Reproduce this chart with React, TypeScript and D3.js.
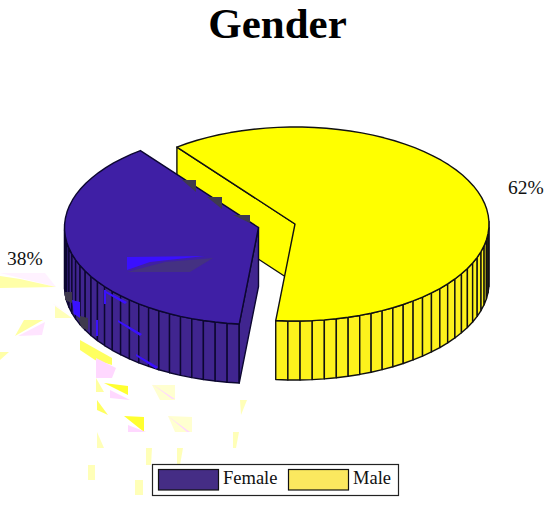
import React from 'react';
import * as d3 from 'd3';

// values
const categories = ['Female', 'Male'];
const shares = [38, 62];
const percentLabels = ['38%', '62%'];
const chartTitle = 'Gender';

const topColors = ['#3f1fa5', '#ffff00'];
const wallColors = ['#40258f', '#fdf21c'];
const legendColors = ['#452d85', '#fbe85f'];

// The source image has rendering/compression debris around the pie. It is not
// data, just traced by hand so the picture looks the same: [colour, polygon].
const debrisBehind: [string, string][] = [
  ['#fff2ff', '0,273 45,273 56,287'],
  ['#ffffa8', '0,276 20,279 56,287 0,288'],
  ['#ffe4ff', '18,336 45,322 42,335'],
  ['#ffffa0', '15,336 43,320 24,320'],
  ['#ffe6ff', '52,303 72,316 56,306'],
  ['#ffffb8', '55,306 72,318 55,318'],
  ['#ffff60', '80,340 112,358 112,365 95,360 80,350'],
  ['#ffd8ff', '96,358 116,368 112,378 96,378'],
  ['#ffffa8', '0,352 9,352 0,360'],
  ['#ffffa0', '96,378 104,392 96,392'],
  ['#ffff30', '104,383 128,386 128,395'],
  ['#ffd8ff', '110,390 130,400 110,398'],
  ['#ffffd0', '152,385 175,385 175,400 160,400'],
  ['#ffd8ff', '152,384 175,399 172,399'],
  ['#ffff60', '97,400 108,415 97,410'],
  ['#ffff30', '124,416 144,417 144,432'],
  ['#ffd8ff', '128,425 146,432 128,432'],
  ['#ffffd0', '168,416 192,417 192,432 175,432'],
  ['#ffd8ff', '168,416 190,432 187,432'],
  ['#ffffb8', '97,432 104,448 97,448'],
  ['#ffffb8', '146,448 152,448 151,465 146,465'],
  ['#ffffb8', '177,448 183,448 180,465 177,465'],
  ['#ffffb8', '88,465 95,465 95,480 88,480'],
  ['#ffffb8', '135,480 143,480 143,495 135,495'],
  ['#ffffb8', '240,400 247,400 241,415'],
  ['#ffffb8', '233,432 239,432 236,448 233,448'],
];
const debrisOnPie: [string, string][] = [
  ['#3f3a4d', '182,180 196,180 196,192'],
  ['#3f3a4d', '207,197 222,197 222,209'],
  ['#3f3a4d', '233,215 250,215 250,223'],
  ['#3a10ff', '127,257 205,256 150,262 127,270'],
  ['#443182', '127,272 165,262 213,258 190,272'],
  ['#3f3a4d', '65,292 72,292 72,303 65,300'],
  ['#3f3a4d', '76,315 88,318 88,330 82,328'],
  ['#3a10ff', '104,290 106,290 106,304 104,304'],
  ['#3a10ff', '104,290 127,302 125,304 104,292'],
  ['#3a10ff', '96,320 98,320 98,336 96,336'],
  ['#3a10ff', '118,320 142,334 140,336 118,322'],
  ['#3a10ff', '136,354 158,367 156,369 136,356'],
  ['#3a10ff', '72,300 80,302 80,318 74,314'],
];

const width = 550;
const height = 506;
const serif = '"Liberation Serif", serif';

// the ellipse of the pie top, male slice is the one that stays at the centre
const center = { x: 295, y: 224 };
const radius = { x: 194, y: 97 };
const depth = 59;
const explode = [{ x: -36.5, y: 3.5 }, { x: 0, y: 0 }];

// d3 angles run clockwise from 12 o'clock, this pie runs the other way
const startDeg = -37.5;
const slices = d3.pie<number>().sort(null)
  .startAngle((startDeg * Math.PI) / 180)
  .endAngle(((startDeg - 360) * Math.PI) / 180)(shares);

const xScale = d3.scaleLinear().domain([-1, 1]).range([center.x - radius.x, center.x + radius.x]);
const yScale = d3.scaleLinear().domain([-1, 1]).range([center.y + radius.y, center.y - radius.y]);

type Pt = [number, number];

const rim = (angle: number, i: number, drop = 0): Pt => [
  xScale(Math.sin(angle)) + explode[i].x,
  yScale(Math.cos(angle)) + explode[i].y + drop,
];
const apex = (i: number, drop = 0): Pt => [center.x + explode[i].x, center.y + explode[i].y + drop];
const line = d3.line<Pt>();

const App = () => {
  const faces = slices.map((s, i) => {
    // pie3 uses one facet per percent
    const angles = d3.range(s.data + 1).map(
      d3.scaleLinear().domain([0, s.data]).range([s.startAngle, s.endAngle]),
    );
    const top = line([apex(i), ...angles.map((a) => rim(a, i))]) + 'Z';
    const facets = d3.pairs(angles)
      .filter(([a, b]) => Math.cos(a) < 0.02 || Math.cos(b) < 0.02)
      .map(([a, b]) => line([rim(a, i), rim(b, i), rim(b, i, depth), rim(a, i, depth)]) + 'Z');
    return { top, facets, angles };
  });

  // the flat cuts that can be seen: back cut of Male, front cut of Female
  const maleCutAngle = slices[1].endAngle;
  const femaleCutAngle = slices[0].endAngle;
  const maleCut = line([rim(maleCutAngle, 1), apex(1), apex(1, depth), rim(maleCutAngle, 1, depth)]) + 'Z';
  const femaleCut = line([apex(0), rim(femaleCutAngle, 0), rim(femaleCutAngle, 0, depth), apex(0, depth)]) + 'Z';

  return (
    <svg width={width} height={height} style={{ position: 'absolute', left: 0, top: 0, background: '#fff' }}>
      <text x={277.5} y={38} textAnchor="middle" fontFamily={serif} fontWeight="bold" fontSize={43}>
        {chartTitle}
      </text>

      {debrisBehind.map(([c, p], k) => <polygon key={k} points={p} fill={c} />)}

      <g stroke="#111" strokeWidth={1.4} strokeLinejoin="round">
        <path d={maleCut} fill={topColors[1]} />
        {faces[1].facets.map((d, k) => <path key={k} d={d} fill={wallColors[1]} />)}
        <path d={faces[1].top} fill={topColors[1]} />
      </g>
      <g stroke="#0c0730" strokeWidth={1.4} strokeLinejoin="round">
        {faces[0].facets.map((d, k) => <path key={k} d={d} fill={wallColors[0]} />)}
        <path d={femaleCut} fill={wallColors[0]} />
        <path d={faces[0].top} fill={topColors[0]} />
      </g>

      {debrisOnPie.map(([c, p], k) => <polygon key={k} points={p} fill={c} />)}

      <g fontFamily={serif} fontSize={19.5} fill="#111">
        <text x={7} y={265}>{percentLabels[0]}</text>
        <text x={508} y={194}>{percentLabels[1]}</text>
      </g>

      <rect x={152.5} y={464.5} width={246} height={31} fill="#fff" stroke="#222" strokeWidth={1.2} />
      {categories.map((c, i) => (
        <g key={c} transform={`translate(${158 + i * 130},469)`}>
          <rect x={0.5} y={0.5} width={60} height={20.5} fill={legendColors[i]} stroke="#111" strokeWidth={1.2} />
          <text x={65} y={15} fontFamily={serif} fontSize={18.5} fill="#111">{c}</text>
        </g>
      ))}
    </svg>
  );
};

export default App;
